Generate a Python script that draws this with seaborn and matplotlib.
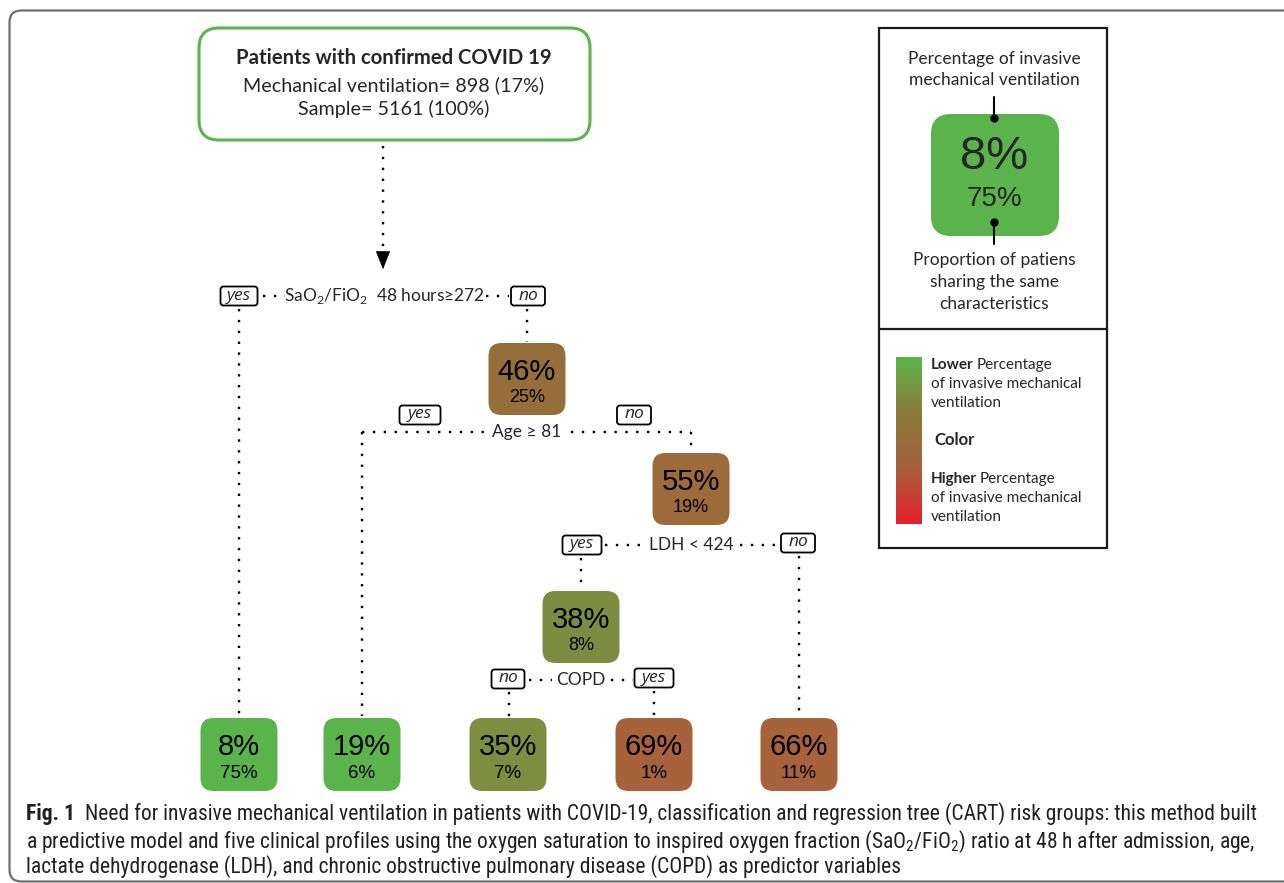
import numpy as np
import matplotlib
matplotlib.use("Agg")
import matplotlib.pyplot as plt
from matplotlib.patches import FancyBboxPatch, Rectangle
import seaborn as sns

# ---------------- data ----------------
root_title = "Patients with confirmed COVID 19"
root_ventilated = 898
root_ventilated_pct = 17
root_sample = 5161
root_sample_pct = 100

split_labels = [r"SaO$_\mathregular{2}$/FiO$_\mathregular{2}$  48 hours≥272", "Age ≥ 81", "LDH < 424", "COPD"]
split_left = ["yes", "yes", "yes", "no"]
split_right = ["no", "no", "no", "yes"]

inner_pct = [46, 55, 38]          # % invasive MV
inner_share = [25, 19, 8]         # % of patients
inner_colors = ["#966e3b", "#9d6a3b", "#7e8c41"]

leaf_pct = [8, 19, 35, 69, 66]
leaf_share = [75, 6, 7, 1, 11]
leaf_colors = ["#5ab34b", "#5ab34b", "#7f8d41", "#a6623a", "#a6623a"]

legend_pct = 8
legend_share = 75
legend_color = "#5ab34b"
gradient_colors = ["#5ab54b", "#8a7a3c", "#a6613a", "#e61f2a"]

caption_lines = [
    "Need for invasive mechanical ventilation in patients with COVID-19, classification and regression tree (CART) risk groups: this method built",
    r"a predictive model and five clinical profiles using the oxygen saturation to inspired oxygen fraction (SaO$_\mathregular{2}$/FiO$_\mathregular{2}$) ratio at 48 h after admission, age,",
    "lactate dehydrogenase (LDH), and chronic obstructive pulmonary disease (COPD) as predictor variables",
]

# ---------------- layout (pixel space) ----------------
W, H = 1284, 883
LABEL_FONT = ["Lato", "DejaVu Sans"]
NUM_FONT = ["Liberation Sans", "DejaVu Sans"]
CAP_FONT = ["Liberation Sans Narrow", "Roboto Condensed", "Roboto", "DejaVu Sans"]
CAP_COLOR = "#231f20"

sns.set_theme(style="white")
plt.rcParams["font.family"] = LABEL_FONT
plt.rcParams["mathtext.fontset"] = "custom"
plt.rcParams["mathtext.rm"] = "Lato"

fig = plt.figure(figsize=(W / 100, H / 100), dpi=100)
ax = fig.add_axes([0, 0, 1, 1])
ax.set_xlim(0, W)
ax.set_ylim(H, 0)
ax.axis("off")

DOT = dict(color="black", lw=1.7, linestyle=(0, (1, 3.6)), solid_capstyle="butt")

def dotted(xs, ys):
    ax.plot(xs, ys, **DOT)

def node(cx, top, pct, share, color, w=77, h=72, big=21, small=13):
    ax.add_patch(FancyBboxPatch((cx - w / 2, top), w, h,
                                boxstyle="round,pad=0,rounding_size=13",
                                fc=color, ec="none"))
    ax.text(cx, top + h * 0.40, f"{pct}%", ha="center", va="center",
            fontsize=big, family=NUM_FONT, color="black")
    ax.text(cx, top + h * 0.76, f"{share}%", ha="center", va="center",
            fontsize=small, family=NUM_FONT, color="black")

def tag(cx, cy, s, w):
    ax.add_patch(FancyBboxPatch((cx - w / 2, cy - 9.5), w, 19,
                                boxstyle="round,pad=0,rounding_size=3",
                                fc="white", ec="black", lw=1.3))
    ax.text(cx, cy - 0.5, s, ha="center", va="center", fontsize=12.5,
            style="italic", family=["Open Sans", "DejaVu Sans"])

# outer frame
ax.add_patch(FancyBboxPatch((9.5, 10.5), 1400, 871,
                            boxstyle="round,pad=0,rounding_size=12",
                            fc="none", ec="#6e6e6e", lw=1.6, clip_on=True))

# root box
ax.add_patch(FancyBboxPatch((199, 28), 391, 112,
                            boxstyle="round,pad=0,rounding_size=20",
                            fc="white", ec="#5ab54b", lw=2.2))
ax.text(394, 58, root_title, ha="center", va="center", fontsize=14.6, weight="bold")
ax.text(394, 85, f"Mechanical ventilation= {root_ventilated} ({root_ventilated_pct}%)",
        ha="center", va="center", fontsize=14.2)
ax.text(394, 109, f"Sample= {root_sample} ({root_sample_pct}%)",
        ha="center", va="center", fontsize=14.2)

# arrow from root
dotted([383, 383], [146, 258])
ax.annotate("", xy=(383, 272), xytext=(383, 256),
            arrowprops=dict(arrowstyle="-|>,head_width=0.4,head_length=1.0",
                            color="black", lw=0.5))

# ---- split 1
y1 = 296
tag(239, y1, split_left[0], 37)
tag(528, y1, split_right[0], 34)
ax.text(385, y1, split_labels[0], ha="center", va="center", fontsize=12.5)
dotted([263, 285], [y1, y1])
dotted([486, 509], [y1, y1])
dotted([239, 239], [309, 716])
dotted([527, 527], [309, 342])

node(527, 343, inner_pct[0], inner_share[0], inner_colors[0])

# ---- split 2
y2 = 432
tag(420, 415, split_left[1], 41)
tag(634, 415, split_right[1], 34)
ax.text(527, y2, split_labels[1], ha="center", va="center", fontsize=12.5)
dotted([362, 485], [y2, y2])
dotted([571, 691], [y2, y2])
dotted([362, 362], [y2, 716])
dotted([691, 691], [y2, 452])

node(691, 453, inner_pct[1], inner_share[1], inner_colors[1])

# ---- split 3
y3 = 545
tag(582, y3, split_left[2], 39)
tag(798, 543, split_right[2], 34)
ax.text(691, y3, split_labels[2], ha="center", va="center", fontsize=12.5)
dotted([605, 647], [y3, y3])
dotted([740, 777], [y3, y3])
dotted([581, 581], [558, 590])
dotted([799, 799], [556, 716])

node(581, 591, inner_pct[2], inner_share[2], inner_colors[2])

# ---- split 4
y4 = 680
tag(508, 679, split_left[3], 33)
tag(654, 678, split_right[3], 39)
ax.text(581, y4, split_labels[3], ha="center", va="center", fontsize=12.5)
dotted([529, 552], [y4, y4])
dotted([611, 633], [y4, y4])
dotted([509, 509], [692, 716])
dotted([654, 654], [691, 716])

# ---- leaves
leaf_x = [239, 362, 508, 654, 799]
for cx, p, s, c in zip(leaf_x, leaf_pct, leaf_share, leaf_colors):
    node(cx, 718, p, s, c, h=73, big=21, small=13.5)

# ---------------- legend box ----------------
ax.add_patch(Rectangle((879, 28), 228, 520, fc="none", ec="#1a1a1a", lw=1.6))
ax.plot([879, 1107], [329, 329], color="#1a1a1a", lw=1.6)

LFS = 12.5
ax.text(994, 59, "Percentage of invasive", ha="center", va="center", fontsize=LFS)
ax.text(994, 80, "mechanical ventilation", ha="center", va="center", fontsize=LFS)
ax.add_patch(FancyBboxPatch((931, 114), 128, 122,
                            boxstyle="round,pad=0,rounding_size=20",
                            fc=legend_color, ec="none"))
ax.text(994, 157, f"{legend_pct}%", ha="center", va="center", fontsize=34, family=NUM_FONT)
ax.text(994, 199, f"{legend_share}%", ha="center", va="center", fontsize=20, family=NUM_FONT)
ax.plot([994, 994], [97, 118], color="black", lw=1.5)
ax.plot([994, 994], [222, 244], color="black", lw=1.5)
ax.plot([994], [118], "o", color="black", ms=5)
ax.plot([994], [222], "o", color="black", ms=5)
ax.text(994, 260, "Proportion of patiens", ha="center", va="center", fontsize=LFS)
ax.text(994, 282, "sharing the same", ha="center", va="center", fontsize=LFS)
ax.text(994, 304, "characteristics", ha="center", va="center", fontsize=LFS)

# colour ramp
cmap = sns.blend_palette(gradient_colors, as_cmap=True)
cax = fig.add_axes([896 / W, 1 - 524 / H, 26 / W, 167 / H])
ramp = np.linspace(0, 1, 200).reshape(-1, 1)
sns.heatmap(ramp, ax=cax, cmap=cmap, cbar=False, xticklabels=False, yticklabels=False)
cax.axis("off")

def rich_line(x, y, bold, rest, fs=11):
    t = ax.text(x, y, bold, ha="left", va="center", fontsize=fs, weight="bold")
    fig.canvas.draw()
    bb = t.get_window_extent()
    x2 = ax.transData.inverted().transform((bb.x1, 0))[0]
    ax.text(x2 + 3, y, rest, ha="left", va="center", fontsize=fs)

rich_line(931, 365, "Lower", "Percentage")
ax.text(931, 384, "of invasive mechanical", ha="left", va="center", fontsize=11)
ax.text(931, 403, "ventilation", ha="left", va="center", fontsize=11)
ax.text(934, 440, "Color", ha="left", va="center", fontsize=12, weight="bold")
rich_line(931, 479, "Higher", "Percentage")
ax.text(931, 498, "of invasive mechanical", ha="left", va="center", fontsize=11)
ax.text(931, 517, "ventilation", ha="left", va="center", fontsize=11)

# ---------------- caption ----------------
CFS = 15.5
t = ax.text(26, 814, "Fig. 1", ha="left", va="center", fontsize=CFS, weight="bold",
            family=CAP_FONT, color=CAP_COLOR)
fig.canvas.draw()
bb = t.get_window_extent()
xs = ax.transData.inverted().transform((bb.x1, 0))[0]
ax.text(xs + 10, 814, caption_lines[0], ha="left", va="center", fontsize=CFS,
        family=CAP_FONT, color=CAP_COLOR)
ax.text(26, 842, caption_lines[1], ha="left", va="center", fontsize=CFS,
        family=CAP_FONT, color=CAP_COLOR)
ax.text(26, 867, caption_lines[2], ha="left", va="center", fontsize=CFS,
        family=CAP_FONT, color=CAP_COLOR)

fig.savefig("out.png", dpi=100)
